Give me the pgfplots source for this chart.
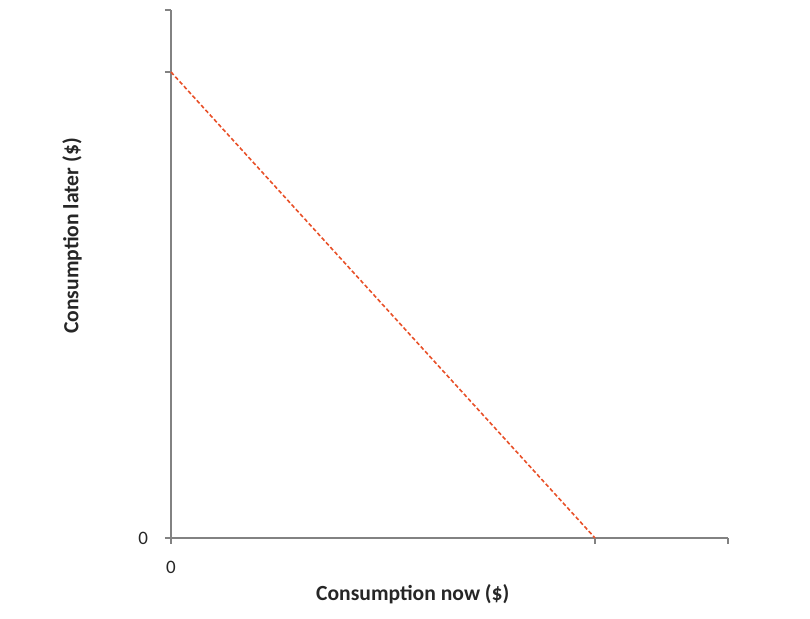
\documentclass[border=0pt]{standalone}
\usepackage{pgfplots}
\pgfplotsset{compat=1.18}
\usepackage{fontspec}
\setmainfont{Carlito}
\definecolor{axgray}{RGB}{130,130,130}
\definecolor{lred}{RGB}{232,80,40}
\begin{document}
\begin{tikzpicture}
\begin{axis}[name=ax,
  scale only axis, width=278.5pt, height=264pt,
  xmin=0, xmax=557, ymin=0, ymax=528,
  axis lines=left, axis line style={axgray, line width=0.6pt, -},
  xtick={0,424,557}, xticklabels={0,,},
  ytick={0,466,528}, yticklabels={0,,},
  tick align=outside, major tick length=3pt,
  tick style={axgray, line width=0.6pt},
  /pgf/number format/assume math mode=true,
  tick label style={font=\fontsize{9.5}{10}\selectfont, text=black!85},
  xticklabel style={yshift=-5pt},
  yticklabel style={xshift=-5pt},
  xlabel={\textbf{Consumption now (\$)}},
  ylabel={\textbf{Consumption later (\$)}},
  label style={font=\fontsize{10.8}{12}\selectfont, text=black!85},
  xlabel style={at={(axis description cs:0.434,0)}, anchor=center, yshift=-28pt},
  ylabel style={at={(axis description cs:0,0.572)}, anchor=center, yshift=49.5pt},
  clip=false,
]
\addplot[lred, line width=0.8pt, dash pattern=on 2pt off 1.2pt] coordinates {(0,466) (424,0)};
\end{axis}
\pgfresetboundingbox
\useasboundingbox ([shift={(-85.5pt,-40.5pt)}]ax.south west) rectangle ([shift={(319.5pt,269pt)}]ax.south west);
\end{tikzpicture}
\end{document}
